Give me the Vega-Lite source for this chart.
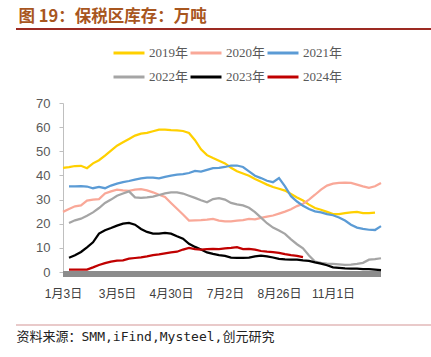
{
  "$schema": "https://vega.github.io/schema/vega-lite/v6.json",
  "width": 318,
  "height": 169,
  "autosize": {"type": "none"},
  "padding": {"left": 63, "top": 103, "right": 50, "bottom": 85},
  "background": "white",
  "config": {
    "view": {"stroke": null},
    "axisX": {
      "grid": false, "ticks": false, "domain": false,
      "labelPadding": 16, "labelFont": "Liberation Sans, Noto Sans CJK SC",
      "labelFontSize": 12, "labelColor": "#404040", "labelOverlap": false, "labelFlush": false, "labelBound": false,
      "titleX": -47, "titleY": 64, "titleAlign": "left", "titleBaseline": "middle",
      "titleFont": "DejaVu Sans Mono, Noto Sans CJK SC", "titleFontSize": 13,
      "titleFontWeight": "normal", "titleColor": "#222222"
    },
    "axisY": {
      "grid": false, "domain": true, "ticks": true, "tickCount": 8,
      "domainColor": "#BFBFBF", "tickColor": "#BFBFBF", "tickSize": 4,
      "labelPadding": 9, "labelAlign": "right", "labelOverlap": false, "labelFlush": false, "labelBound": false,
      "labelFont": "Liberation Sans", "labelFontSize": 13, "labelColor": "#595959",
      "titleAngle": 0, "titleX": -45, "titleY": -87, "titleAlign": "left", "titleBaseline": "middle",
      "titleFont": "Noto Sans CJK SC", "titleFontSize": 16.5, "titleFontWeight": "bold", "titleColor": "#A8561E"
    }
  },
  "data": {"values": [
    {"i": 0, "2019年": 43.1, "2020年": 24.9},
    {"i": 1, "2019年": 43.4, "2020年": 26.1, "2021年": 35.5, "2022年": 20.3, "2023年": 5.9, "2024年": 1},
    {"i": 2, "2019年": 43.9, "2020年": 27.2, "2021年": 35.5, "2022年": 21.4, "2023年": 6.9, "2024年": 1},
    {"i": 3, "2019年": 44, "2020年": 27.6, "2021年": 35.6, "2022年": 22.1, "2023年": 8.3, "2024年": 1},
    {"i": 4, "2019年": 43, "2020年": 29.6, "2021年": 35.4, "2022年": 23.3, "2023年": 10.2, "2024年": 1},
    {"i": 5, "2019年": 45, "2020年": 30, "2021年": 34.7, "2022年": 24.7, "2023年": 12.3, "2024年": 1.9},
    {"i": 6, "2019年": 46.3, "2020年": 30.2, "2021年": 35.2, "2022年": 26.5, "2023年": 15.9, "2024年": 2.9},
    {"i": 7, "2019年": 48.2, "2020年": 32.5, "2021年": 34.7, "2022年": 28.6, "2023年": 17.3, "2024年": 3.7},
    {"i": 8, "2019年": 50.3, "2020年": 33.4, "2021年": 35.8, "2022年": 30, "2023年": 18.2, "2024年": 4.3},
    {"i": 9, "2019年": 52.3, "2020年": 34.1, "2021年": 36.6, "2022年": 31.6, "2023年": 19.2, "2024年": 4.7},
    {"i": 10, "2019年": 53.7, "2020年": 33.8, "2021年": 37.2, "2022年": 32.5, "2023年": 20, "2024年": 4.8},
    {"i": 11, "2019年": 55.1, "2020年": 33.6, "2021年": 37.7, "2022年": 33.4, "2023年": 20.3, "2024年": 5.5},
    {"i": 12, "2019年": 56.5, "2020年": 34.1, "2021年": 38.3, "2022年": 30.9, "2023年": 19.6, "2024年": 5.8},
    {"i": 13, "2019年": 57.3, "2020年": 34.3, "2021年": 38.8, "2022年": 30.7, "2023年": 17.8, "2024年": 6.1},
    {"i": 14, "2019年": 57.6, "2020年": 33.8, "2021年": 39.1, "2022年": 30.9, "2023年": 16.6, "2024年": 6.5},
    {"i": 15, "2019年": 58.3, "2020年": 33, "2021年": 39.1, "2022年": 31.2, "2023年": 15.9, "2024年": 7},
    {"i": 16, "2019年": 59, "2020年": 32, "2021年": 38.8, "2022年": 31.9, "2023年": 15.9, "2024年": 7.3},
    {"i": 17, "2019年": 59, "2020年": 31.1, "2021年": 39.4, "2022年": 32.6, "2023年": 16.2, "2024年": 7.7},
    {"i": 18, "2019年": 58.8, "2020年": 28.6, "2021年": 39.9, "2022年": 33, "2023年": 15.9, "2024年": 8.1},
    {"i": 19, "2019年": 58.7, "2020年": 26.2, "2021年": 40.3, "2022年": 33, "2023年": 14.8, "2024年": 8.4},
    {"i": 20, "2019年": 58.4, "2020年": 23.8, "2021年": 40.5, "2022年": 32.5, "2023年": 13.8, "2024年": 9.3},
    {"i": 21, "2019年": 57.6, "2020年": 21.3, "2021年": 41, "2022年": 31.6, "2023年": 11.7, "2024年": 10},
    {"i": 22, "2019年": 54.6, "2020年": 21.4, "2021年": 41.9, "2022年": 30.7, "2023年": 10.4, "2024年": 9.5},
    {"i": 23, "2019年": 50.8, "2020年": 21.5, "2021年": 41.6, "2022年": 29.7, "2023年": 9.3, "2024年": 9.3},
    {"i": 24, "2019年": 48.4, "2020年": 21.7, "2021年": 42.3, "2022年": 28.9, "2023年": 8.1, "2024年": 9.5},
    {"i": 25, "2019年": 47.2, "2020年": 22, "2021年": 43, "2022年": 30.2, "2023年": 7.5, "2024年": 9.6},
    {"i": 26, "2019年": 46.1, "2020年": 21.3, "2021年": 43.1, "2022年": 30.6, "2023年": 7, "2024年": 9.5},
    {"i": 27, "2019年": 45, "2020年": 21, "2021年": 43.5, "2022年": 30, "2023年": 6.7, "2024年": 9.8},
    {"i": 28, "2019年": 43.2, "2020年": 21, "2021年": 44.1, "2022年": 28.6, "2023年": 6, "2024年": 10},
    {"i": 29, "2019年": 41.7, "2020年": 21.3, "2021年": 44.1, "2022年": 28, "2023年": 5.9, "2024年": 10.3},
    {"i": 30, "2019年": 40.8, "2020年": 21.5, "2021年": 43.5, "2022年": 27.6, "2023年": 5.9, "2024年": 9.5},
    {"i": 31, "2019年": 39.9, "2020年": 22, "2021年": 41.7, "2022年": 26.6, "2023年": 6, "2024年": 9.6},
    {"i": 32, "2019年": 38.5, "2020年": 21.8, "2021年": 39.9, "2022年": 24.8, "2023年": 6.5, "2024年": 9.3},
    {"i": 33, "2019年": 37.4, "2020年": 22.4, "2021年": 38.9, "2022年": 22.5, "2023年": 6.8, "2024年": 8.7},
    {"i": 34, "2019年": 36.2, "2020年": 22.9, "2021年": 37.8, "2022年": 20.2, "2023年": 6.5, "2024年": 8.4},
    {"i": 35, "2019年": 35.2, "2020年": 23.4, "2021年": 37.2, "2022年": 18.4, "2023年": 6, "2024年": 8.2},
    {"i": 36, "2019年": 34.5, "2020年": 24.2, "2021年": 38.9, "2022年": 17.2, "2023年": 5.4, "2024年": 7.9},
    {"i": 37, "2019年": 33.7, "2020年": 25, "2021年": 35.5, "2022年": 15.8, "2023年": 5.2, "2024年": 7.4},
    {"i": 38, "2019年": 32.3, "2020年": 26, "2021年": 31.4, "2022年": 13.5, "2023年": 5.1, "2024年": 7},
    {"i": 39, "2019年": 30.9, "2020年": 27.3, "2021年": 29.2, "2022年": 11.5, "2023年": 5.1, "2024年": 6.7},
    {"i": 40, "2019年": 29.6, "2020年": 28.3, "2021年": 27.4, "2022年": 9.8, "2023年": 4.8, "2024年": 6.2},
    {"i": 41, "2019年": 27.9, "2020年": 30, "2021年": 26.1, "2022年": 6.8, "2023年": 4.6},
    {"i": 42, "2019年": 26.5, "2020年": 32, "2021年": 25.1, "2022年": 4.3, "2023年": 4},
    {"i": 43, "2019年": 25.8, "2020年": 34.1, "2021年": 24.7, "2022年": 3.8, "2023年": 3.5},
    {"i": 44, "2019年": 24.9, "2020年": 35.8, "2021年": 24, "2022年": 3.5, "2023年": 2.8},
    {"i": 45, "2019年": 24, "2020年": 36.6, "2021年": 23.5, "2022年": 3.4, "2023年": 1.9},
    {"i": 46, "2019年": 24, "2020年": 36.9, "2021年": 22.6, "2022年": 3.2, "2023年": 1.7},
    {"i": 47, "2019年": 24.4, "2020年": 37, "2021年": 21.3, "2022年": 3, "2023年": 1.5},
    {"i": 48, "2019年": 24.7, "2020年": 36.9, "2021年": 19.6, "2022年": 3.1, "2023年": 1.4},
    {"i": 49, "2019年": 24.9, "2020年": 36.2, "2021年": 18.4, "2022年": 3.4, "2023年": 1.4},
    {"i": 50, "2019年": 24.4, "2020年": 35.5, "2021年": 17.9, "2022年": 3.8, "2023年": 1.2},
    {"i": 51, "2019年": 24.4, "2020年": 34.9, "2021年": 17.5, "2022年": 5.1, "2023年": 1.2},
    {"i": 52, "2019年": 24.6, "2020年": 35.5, "2021年": 17.4, "2022年": 5.3, "2023年": 1},
    {"i": 53, "2020年": 36.9, "2021年": 19, "2022年": 5.7, "2023年": 0.8}
  ]},
  "layer": [
    {
      "mark": {"type": "rule", "color": "#8C8C8C", "strokeWidth": 4.5},
      "encoding": {
        "x": {"datum": 0, "type": "quantitative", "scale": {"domain": [0, 53], "nice": false, "zero": false}},
        "x2": {"datum": 53},
        "y": {"datum": -0.85, "type": "quantitative", "scale": {"domain": [0, 70], "nice": false}}
      }
    },
    {
      "transform": [
        {"fold": ["2019年", "2020年", "2021年", "2022年", "2023年", "2024年"], "as": ["series", "value"]},
        {"filter": "isValid(datum.value)"}
      ],
      "mark": {"type": "line", "strokeWidth": 2.25, "clip": false},
      "encoding": {
        "x": {
          "field": "i", "type": "quantitative",
          "scale": {"domain": [0, 53], "nice": false, "zero": false},
          "axis": {
            "values": [0, 9, 18, 27, 36, 45],
            "labelExpr": "['1月3日','3月5日','4月30日','7月2日','8月26日','11月1日'][indexof([0,9,18,27,36,45], datum.value)]",
            "title": "资料来源：SMM,iFind,Mysteel,创元研究"
          }
        },
        "y": {
          "field": "value", "type": "quantitative",
          "scale": {"domain": [0, 70], "nice": false},
          "axis": {
            "values": [0, 10, 20, 30, 40, 50, 60, 70],
            "tickCount": 8,
            "title": "图 19：保税区库存：万吨"
          }
        },
        "color": {
          "field": "series", "type": "nominal",
          "scale": {
            "domain": ["2019年", "2020年", "2021年", "2022年", "2023年", "2024年"],
            "range": ["#FFD000", "#F9A898", "#5B9BD5", "#A5A5A5", "#000000", "#C00000"]
          },
          "legend": {
            "orient": "none", "legendX": 49, "legendY": -67, "direction": "horizontal", "columns": 3,
            "title": null, "padding": 0, "symbolType": "stroke", "symbolSize": 961, "symbolStrokeWidth": 3,
            "labelFont": "Liberation Serif, Noto Sans CJK SC", "labelFontSize": 13, "labelColor": "#595959",
            "labelOffset": 3, "columnPadding": -9.5, "rowPadding": -4
          }
        }
      }
    },
    {
      "mark": {"type": "rule", "color": "#9C2A22", "strokeWidth": 2},
      "encoding": {
        "x": {"datum": -7.83, "type": "quantitative", "scale": {"domain": [0, 53], "nice": false, "zero": false}},
        "x2": {"datum": 61.33},
        "y": {"datum": 100.7, "type": "quantitative", "scale": {"domain": [0, 70], "nice": false}}
      }
    },
    {
      "mark": {"type": "rule", "color": "#E8CACA", "strokeWidth": 1.5},
      "encoding": {
        "x": {"datum": -7.83, "type": "quantitative", "scale": {"domain": [0, 53], "nice": false, "zero": false}},
        "x2": {"datum": 61.33},
        "y": {"datum": -21.96, "type": "quantitative", "scale": {"domain": [0, 70], "nice": false}}
      }
    }
  ]
}
